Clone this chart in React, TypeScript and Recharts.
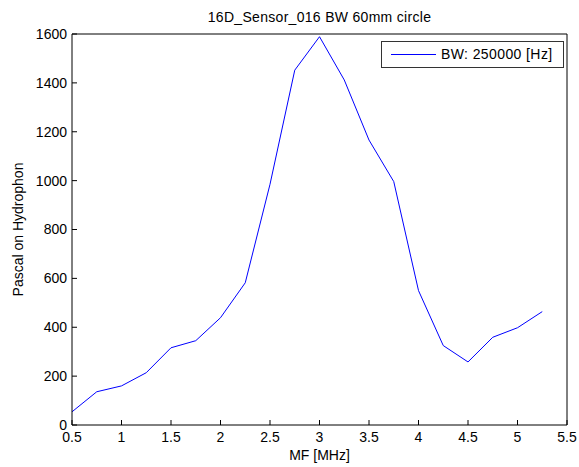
import React from 'react';
import { LineChart, Line, XAxis, YAxis, Legend } from 'recharts';

// frequency in MHz
const freqs = [0.5, 0.75, 1, 1.25, 1.5, 1.75, 2, 2.25, 2.5, 2.75, 3, 3.25, 3.5, 3.75, 4, 4.25, 4.5, 4.75, 5, 5.25];
// pressure
const pascal = [54, 136, 160, 214, 316, 345, 439, 582, 985, 1452, 1589, 1412, 1166, 996, 550, 325, 258, 359, 398, 464];

const xTicks = [0.5, 1, 1.5, 2, 2.5, 3, 3.5, 4, 4.5, 5, 5.5];
const yTicks = [0, 200, 400, 600, 800, 1000, 1200, 1400, 1600];

const seriesName = 'BW: 250000 [Hz]';
const title = '16D_Sensor_016 BW 60mm circle';

const data = freqs.map((f, i) => ({ mf: f, pa: pascal[i] }));

const font = '"Liberation Sans", Arial, sans-serif';
const tickStyle = { fontSize: 14, fill: '#000', fontFamily: font };
const labelStyle = { fontSize: 14, fill: '#000', fontFamily: font };

const LegendBox = () => (
  <div
    style={{
      width: 181,
      height: 25,
      border: '1px solid #333',
      background: '#fff',
      position: 'relative',
      fontFamily: font,
      fontSize: 14,
      color: '#000',
    }}
  >
    <svg width={60} height={25} style={{ position: 'absolute', left: 0, top: 0 }}>
      <line x1={9} x2={54} y1={12.5} y2={12.5} stroke="#0000ff" strokeWidth={1} />
    </svg>
    <span style={{ position: 'absolute', left: 59, top: 4, lineHeight: '17px', letterSpacing: 0.4, whiteSpace: 'nowrap' }}>
      {seriesName}
    </span>
  </div>
);

export default function App() {
  return (
    <div style={{ position: 'absolute', left: 0, top: 0, background: '#fff' }}>
      <LineChart
        width={579}
        height={467}
        data={data}
        margin={{ top: 33, right: 11, bottom: 12, left: 12 }}
      >
        <XAxis
          dataKey="mf"
          type="number"
          domain={[0.5, 5.5]}
          ticks={xTicks}
          allowDataOverflow
          height={30}
          stroke="#000"
          tick={tickStyle}
          tickSize={-5}
          tickMargin={12}
          label={{ value: 'MF [MHz]', position: 'bottom', offset: -5, ...labelStyle }}
        />
        <XAxis
          xAxisId="top"
          orientation="top"
          dataKey="mf"
          type="number"
          domain={[0.5, 5.5]}
          ticks={xTicks}
          allowDataOverflow
          height={1}
          stroke="#000"
          tick={false}
          tickSize={-5}
          label={{ value: title, position: 'top', offset: 11, letterSpacing: 0.3, ...labelStyle }}
        />
        <YAxis
          type="number"
          domain={[0, 1600]}
          ticks={yTicks}
          allowDataOverflow
          width={60}
          stroke="#000"
          tick={tickStyle}
          tickSize={-5}
          tickMargin={10}
          label={{ value: 'Pascal on Hydrophon', angle: -90, position: 'insideLeft', offset: 0, dx: 6, ...labelStyle, style: { textAnchor: 'middle' } }}
        />
        <YAxis
          yAxisId="right"
          orientation="right"
          type="number"
          domain={[0, 1600]}
          ticks={yTicks}
          allowDataOverflow
          width={1}
          stroke="#000"
          tick={false}
          tickSize={-5}
        />
        <Legend
          layout="horizontal"
          verticalAlign="middle"
          align="center"
          content={<LegendBox />}
          wrapperStyle={{ position: 'absolute', left: 381, top: 41, width: 183, height: 27 }}
        />
        <Line
          dataKey="pa"
          name={seriesName}
          stroke="#0000ff"
          strokeWidth={1}
          dot={false}
          activeDot={false}
          isAnimationActive={false}
        />
      </LineChart>
    </div>
  );
}
